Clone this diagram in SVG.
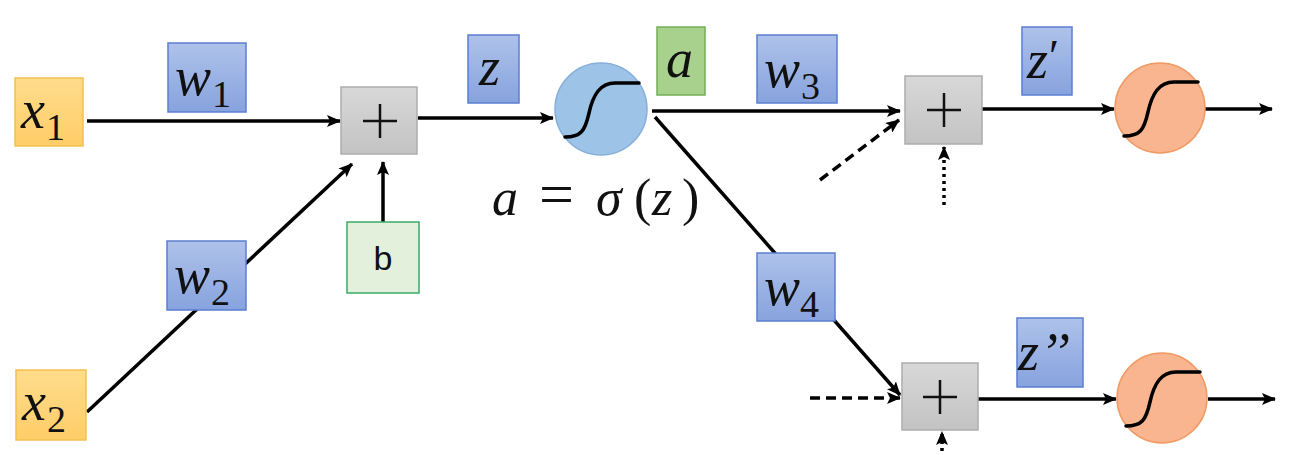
<svg xmlns="http://www.w3.org/2000/svg" width="1312" height="455" viewBox="0 0 1312 455">
<defs>
<linearGradient id="gBlue" x1="0" y1="0" x2="0" y2="1"><stop offset="0" stop-color="#AEC2EA"/><stop offset="1" stop-color="#87A3DE"/></linearGradient>
<linearGradient id="gOrange" x1="0" y1="0" x2="0" y2="1"><stop offset="0" stop-color="#FFDC8C"/><stop offset="1" stop-color="#FFCD68"/></linearGradient>
<linearGradient id="gGray" x1="0" y1="0" x2="0" y2="1"><stop offset="0" stop-color="#D8D8D8"/><stop offset="1" stop-color="#C3C3C3"/></linearGradient>
<marker id="ah" viewBox="0 0 14 12" refX="13" refY="6" markerWidth="14" markerHeight="12" markerUnits="userSpaceOnUse" orient="auto">
<path d="M0,0 L14,6 L0,12 L3,6 Z" fill="#000"/>
</marker>
<path id="sig" d="M -36 28 C -20 28 -16 22 -12 4 S -1 -26 14 -26 L 38 -26" fill="none" stroke="#000" stroke-width="3.5" stroke-linecap="round"/>
</defs>
<style>
.ln{stroke:#000;stroke-width:3.5;fill:none}
.arr{marker-end:url(#ah)}
.dash{stroke-dasharray:10 6}
.dot{stroke-dasharray:3 4}
.blue{fill:url(#gBlue);stroke:#5B7FD0;stroke-width:1.5}
.orange{fill:url(#gOrange);stroke:#F2C04E;stroke-width:1.5}
.gray{fill:url(#gGray);stroke:#ADADAD;stroke-width:1.5}
.green{fill:#A9D18E;stroke:#74AD55;stroke-width:1.5}
.bbox{fill:#E3F0DC;stroke:#3DAA68;stroke-width:1.5}
.cblue{fill:#9DC3E6;stroke:#86AEDC;stroke-width:1.5}
.corange{fill:#F8B58F;stroke:#F09A64;stroke-width:1.5}
.m{font-family:"Liberation Serif","DejaVu Serif",serif;font-style:italic;font-size:54px;fill:#111}
.s{font-family:"Liberation Serif","DejaVu Serif",serif;font-style:normal;font-size:38px;fill:#111}
.eq{font-family:"Liberation Serif","DejaVu Serif",serif;font-size:52px;fill:#111}
.bt{font-family:"Liberation Sans","Arial",sans-serif;font-size:34px;fill:#111}
.plus{stroke:#111;stroke-width:2.5}
</style>

<g id="connectors">
<line class="ln arr" x1="87" y1="121" x2="340" y2="121"/>
<line class="ln arr" x1="87" y1="412" x2="352" y2="164"/>
<line class="ln arr" x1="383" y1="222" x2="383" y2="162"/>
<line class="ln arr" x1="418" y1="118" x2="553" y2="118"/>
<line class="ln arr" x1="652" y1="111" x2="900" y2="111"/>
<line class="ln arr" x1="655" y1="117" x2="900" y2="395"/>
<line class="ln arr dash" x1="820" y1="180" x2="899" y2="120"/>
<line class="ln arr dot" x1="944" y1="205" x2="944" y2="147"/>
<line class="ln arr" x1="982" y1="109" x2="1114" y2="109"/>
<line class="ln arr" x1="1205" y1="109" x2="1272" y2="109"/>
<line class="ln arr dash" x1="810" y1="398" x2="900" y2="398"/>
<line class="ln arr dot" x1="942" y1="458" x2="942" y2="432"/>
<line class="ln arr" x1="978" y1="399" x2="1116" y2="399"/>
<line class="ln arr" x1="1208" y1="399" x2="1275" y2="399"/>
</g>

<g id="x1"><rect class="orange" x="15" y="78" width="68" height="68"/><text class="m" x="21" y="128">x</text><text class="s" x="46" y="140">1</text></g>
<g id="x2"><rect class="orange" x="16" y="370" width="70" height="70"/><text class="m" x="22" y="420">x</text><text class="s" x="47" y="432">2</text></g>
<g id="w1"><rect class="blue" x="168" y="43" width="78" height="69"/><text class="m" x="175" y="95">w</text><text class="s" x="212" y="107">1</text></g>
<g id="w2"><rect class="blue" x="167" y="241" width="79" height="69"/><text class="m" x="174" y="293">w</text><text class="s" x="211" y="305">2</text></g>
<g id="plus1"><rect class="gray" x="341" y="87" width="76" height="67"/><path class="plus" d="M363,121 H397 M380,104 V138"/></g>
<g id="b"><rect class="bbox" x="347" y="222" width="72" height="71"/><text class="bt" x="383" y="270" text-anchor="middle">b</text></g>
<g id="z"><rect class="blue" x="468" y="35" width="51" height="68"/><text class="m" x="479" y="85">z</text></g>
<g id="sigma1"><circle class="cblue" cx="601" cy="109" r="46"/><use href="#sig" transform="translate(601,109)"/></g>
<g id="a"><rect class="green" x="657" y="27" width="48" height="68"/><text class="m" x="666" y="77">a</text></g>
<g id="eq"><text class="eq"><tspan font-style="italic" x="492" y="215">a</tspan><tspan x="539" y="215" font-size="62px">=</tspan><tspan font-style="italic" x="596" y="215">σ</tspan><tspan x="634" y="215">(</tspan><tspan font-style="italic" x="652" y="215">z</tspan><tspan x="682" y="215">)</tspan></text></g>
<g id="w3"><rect class="blue" x="757" y="35" width="80" height="68"/><text class="m" x="764" y="87">w</text><text class="s" x="801" y="99">3</text></g>
<g id="w4"><rect class="blue" x="757" y="253" width="78" height="68"/><text class="m" x="764" y="305">w</text><text class="s" x="800" y="317">4</text></g>
<g id="plus2"><rect class="gray" x="905" y="76" width="77" height="68"/><path class="plus" d="M927,110 H961 M944,93 V127"/></g>
<g id="zp"><rect class="blue" x="1022" y="27" width="50" height="68"/><text class="m" x="1027" y="78">z<tspan font-style="normal" font-size="46px" dx="1" dy="-6">′</tspan></text></g>
<g id="sigma2"><circle class="corange" cx="1160" cy="108" r="45"/><use href="#sig" transform="translate(1160,108)"/></g>
<g id="plus3"><rect class="gray" x="902" y="363" width="76" height="67"/><path class="plus" d="M923,397 H957 M940,380 V414"/></g>
<g id="zpp"><rect class="blue" x="1017" y="318" width="66" height="69"/><text class="m" x="1018" y="370">z<tspan dx="1">’’</tspan></text></g>
<g id="sigma3"><circle class="corange" cx="1162" cy="398" r="45"/><use href="#sig" transform="translate(1162,398)"/></g>
</svg>
